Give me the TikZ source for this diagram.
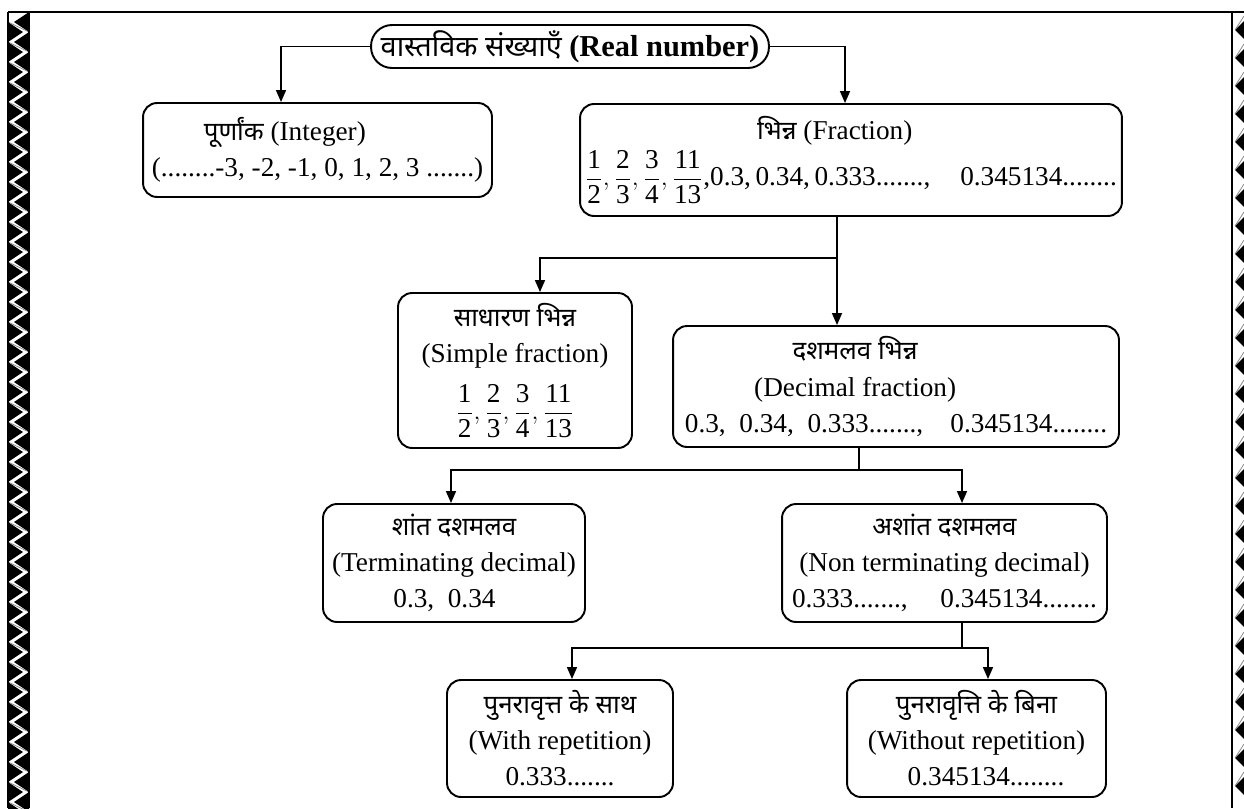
\documentclass[tikz,border=0pt]{standalone}
\usepackage{amsmath}
\usepackage{fontspec}
\setmainfont{Liberation Serif}
\newfontfamily\hindi[Script=Devanagari,Scale=0.95]{Noto Sans}
\usetikzlibrary{arrows.meta}
\newcommand\fr[2]{\dfrac{\text{#1}}{\text{#2}}}

\begin{document}
\begin{tikzpicture}[x=0.02cm,y=-0.02cm,
  box/.style={draw,line width=1.1pt,rounded corners=0.28cm,align=center,inner sep=0pt,font=\fontsize{15.5}{20.5}\selectfont},
  pill/.style={draw,line width=1.1pt,rounded corners=0.42cm,inner sep=0pt,font=\fontsize{17.3}{22}\selectfont\bfseries},
  arr/.style={line width=0.9pt,-{Triangle[length=2.4mm,width=2mm]}}]

  \useasboundingbox (0,0) rectangle (1244,808);

  \begin{scope}
    \clip (8,12) rectangle (29,808);
    \foreach \y in {12,32,...,800} {
      \fill (29,\y) -- (14,\y+10) -- (29,\y+20) -- cycle;
      \fill (8,\y+10) -- (23,\y+20) -- (8,\y+30) -- cycle;
      \draw[gray,line width=0.4pt] (8,\y+10) -- (29,\y+20);
    }
  \end{scope}
  \begin{scope}
    \clip (1232,12) rectangle (1244,808);
    \foreach \y in {30,58,...,800} {
      \fill (1244,\y-9) -- (1235,\y) -- (1244,\y+9) -- cycle;
      \draw[gray,line width=0.4pt] (1235,\y) -- (1244,\y-14);
    }
  \end{scope}
  \draw[line width=1.1pt] (8,12) -- (1244,12);
  \draw[line width=1pt] (8,12) -- (8,808) (29,12) -- (29,808) (1232,12) -- (1232,808);

  \node (real) at (570,46.5) [pill,minimum width=7.96cm,minimum height=0.86cm] {{\hindi वास्तविक संख्याएँ} (Real number)};

  \node (int) at (317.5,150) [box,minimum width=6.98cm,minimum height=1.88cm] {{\hindi पूर्णांक} (Integer)\hspace*{2.4em}\mbox{}\\(........-3, -2, -1, 0, 1, 2, 3 .......)};

  \node (frac) at (851,160) [box,minimum width=10.84cm,minimum height=2.24cm] {{\hindi भिन्न} (Fraction)\hspace*{1.2em}\mbox{}\\[2pt]$\fr{1}{2},\fr{2}{3},\fr{3}{4},\fr{11}{13}$,0.3,\,0.34,\,0.333.......,\hspace{1.1em}0.345134........};

  \node (simple) at (515,370.5) [box,minimum width=4.68cm,minimum height=3.1cm] {{\hindi साधारण भिन्न}\\(Simple fraction)\\[8pt]$\fr{1}{2},\fr{2}{3},\fr{3}{4},\fr{11}{13}$};

  \node (decimal) at (896,386.5) [box,minimum width=8.92cm,minimum height=2.42cm] {{\hindi दशमलव भिन्न}\hspace*{3em}\mbox{}\\(Decimal fraction)\hspace*{3em}\mbox{}\\0.3,\ \ 0.34,\ \ 0.333.......,\hspace{1em}0.345134........};

  \node (term) at (454,563) [box,minimum width=5.24cm,minimum height=2.36cm] {{\hindi शांत दशमलव}\\(Terminating decimal)\\0.3,\ \ 0.34\hspace*{0.7em}\mbox{}};

  \node (nonterm) at (944.5,563) [box,minimum width=6.5cm,minimum height=2.36cm] {{\hindi अशांत दशमलव}\\(Non terminating decimal)\\0.333.......,\hspace{1.2em}0.345134........};

  \node (with) at (560,738.5) [box,minimum width=4.52cm,minimum height=2.34cm] {{\hindi पुनरावृत्त के साथ}\\(With repetition)\\0.333.......};

  \node (without) at (976.5,738.5) [box,minimum width=5.18cm,minimum height=2.34cm] {{\hindi पुनरावृत्ति के बिना}\\(Without repetition)\\\hspace*{0.7em}0.345134........};

  \draw[arr] (real.west) -| ([xshift=-0.73cm]int.north);
  \draw[arr] (real.east) -| ([xshift=-0.12cm]frac.north);
  \draw[arr] ([xshift=-0.28cm]frac.south) |- ([xshift=0.5cm,yshift=0.68cm]simple.north) -- ([xshift=0.5cm]simple.north);
  \draw[arr] ([xshift=-0.28cm]frac.south) -- ([xshift=-1.18cm]decimal.north);
  \draw[arr] ([xshift=-0.74cm]decimal.south) |- ([xshift=-0.06cm,yshift=0.66cm]term.north) -- ([xshift=-0.06cm]term.north);
  \draw[arr] ([xshift=-0.74cm]decimal.south) |- ([xshift=0.35cm,yshift=0.66cm]nonterm.north) -- ([xshift=0.35cm]nonterm.north);
  \draw[arr] ([xshift=0.35cm]nonterm.south) |- ([xshift=0.24cm,yshift=0.62cm]with.north) -- ([xshift=0.24cm]with.north);
  \draw[arr] ([xshift=0.35cm]nonterm.south) |- ([xshift=0.23cm,yshift=0.62cm]without.north) -- ([xshift=0.23cm]without.north);
\end{tikzpicture}
\end{document}
